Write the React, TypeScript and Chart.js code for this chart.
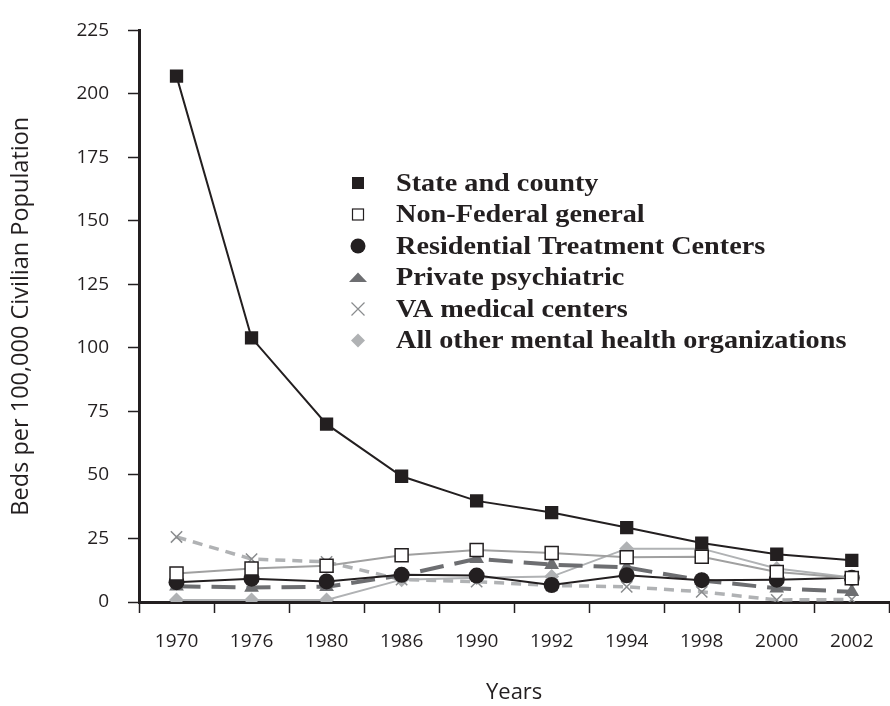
import React, { useEffect, useRef } from 'react';
import { Chart, registerables } from 'chart.js';
Chart.register(...registerables);

const years = ['1970', '1976', '1980', '1986', '1990', '1992', '1994', '1998', '2000', '2002'];
const stateCounty = [207, 104, 70, 49.5, 39.8, 35.2, 29.3, 23.2, 18.8, 16.4];
const nonFederal = [11.2, 13.2, 14.3, 18.4, 20.5, 19.3, 17.6, 17.8, 11.8, 9.4];
const residential = [7.8, 9.2, 8.1, 10.7, 10.4, 6.7, 10.5, 8.6, 8.8, 9.5];
const privatePsych = [6.2, 5.7, 6.0, 10.5, 17.0, 14.7, 13.6, 8.5, 5.4, 4.0];
const vaMedical = [25.6, 16.9, 15.8, 8.8, 8.0, 6.5, 6.0, 4.0, 0.8, 1.0];
const allOther = [0.8, 0.8, 0.8, 8.8, 9.5, 10.0, 21.0, 21.0, 13.2, 9.6];
const seriesLabels = [
  'State and county',
  'Non-Federal general',
  'Residential Treatment Centers',
  'Private psychiatric',
  'VA medical centers',
  'All other mental health organizations',
];
const yMin = 0;
const yMax = 225;
const yStep = 25;

const INK = '#231f20';
const DARK_GRAY = '#6d6e71';
const MID_GRAY = '#a0a0a0';
const LIGHT_GRAY = '#b0b2b4';

const legendPlugin = {
  id: 'customLegend',
  afterDraw(chart: any) {
    const ctx = chart.ctx as CanvasRenderingContext2D;
    const mx = 358;
    const tx = 396;
    const base0 = 190.5;
    const step = 31.5;
    const stretch = 1.13;
    ctx.save();
    seriesLabels.forEach((label, i) => {
      const by = base0 + step * i;
      const cy = by - 7.5;
      ctx.save();
      if (i === 0) {
        ctx.fillStyle = INK;
        ctx.fillRect(mx - 6, cy - 6, 12, 12);
      } else if (i === 1) {
        ctx.fillStyle = '#fff';
        ctx.fillRect(mx - 6, cy - 6, 12, 12);
        ctx.strokeStyle = INK;
        ctx.lineWidth = 1.2;
        ctx.strokeRect(mx - 5.5, cy - 5.5, 11, 11);
      } else if (i === 2) {
        ctx.fillStyle = INK;
        ctx.beginPath();
        ctx.arc(mx, cy, 7.5, 0, Math.PI * 2);
        ctx.fill();
      } else if (i === 3) {
        ctx.fillStyle = DARK_GRAY;
        ctx.beginPath();
        ctx.moveTo(mx - 9, cy + 4.5);
        ctx.lineTo(mx + 9, cy + 4.5);
        ctx.lineTo(mx, cy - 5);
        ctx.closePath();
        ctx.fill();
      } else if (i === 4) {
        ctx.strokeStyle = '#8a8c8e';
        ctx.lineWidth = 1.2;
        ctx.beginPath();
        ctx.moveTo(mx - 6.5, cy - 6.5);
        ctx.lineTo(mx + 6.5, cy + 6.5);
        ctx.moveTo(mx + 6.5, cy - 6.5);
        ctx.lineTo(mx - 6.5, cy + 6.5);
        ctx.stroke();
      } else {
        ctx.fillStyle = LIGHT_GRAY;
        ctx.beginPath();
        ctx.moveTo(mx, cy - 7);
        ctx.lineTo(mx + 7, cy);
        ctx.lineTo(mx, cy + 7);
        ctx.lineTo(mx - 7, cy);
        ctx.closePath();
        ctx.fill();
      }
      ctx.restore();
      ctx.save();
      ctx.translate(tx, by);
      ctx.scale(stretch, 1);
      ctx.fillStyle = INK;
      ctx.font = 'bold 25px "Liberation Serif"';
      ctx.textAlign = 'left';
      ctx.textBaseline = 'alphabetic';
      ctx.fillText(label, 0, 0);
      ctx.restore();
    });
    ctx.restore();
  },
};

export default function App() {
  const ref = useRef<HTMLCanvasElement | null>(null);
  useEffect(() => {
    if (!ref.current) return;
    const chart = new Chart(ref.current, {
      type: 'line',
      data: {
        labels: years,
        datasets: [
          {
            label: seriesLabels[0],
            data: stateCounty,
            borderColor: INK,
            borderWidth: 2,
            pointStyle: 'rect',
            pointRadius: 9.4,
            pointBackgroundColor: INK,
            pointBorderColor: INK,
            pointBorderWidth: 0,
          },
          {
            label: seriesLabels[1],
            data: nonFederal,
            borderColor: MID_GRAY,
            borderWidth: 2,
            pointStyle: 'rect',
            pointRadius: 9.2,
            pointBackgroundColor: '#ffffff',
            pointBorderColor: INK,
            pointBorderWidth: 1.5,
          },
          {
            label: seriesLabels[2],
            data: residential,
            borderColor: INK,
            borderWidth: 2,
            pointStyle: 'circle',
            pointRadius: 8,
            pointBackgroundColor: INK,
            pointBorderColor: INK,
            pointBorderWidth: 0,
          },
          {
            label: seriesLabels[3],
            data: privatePsych,
            borderColor: DARK_GRAY,
            borderWidth: 4,
            borderDash: [24, 11],
            pointStyle: 'triangle',
            pointRadius: 8.5,
            pointBackgroundColor: DARK_GRAY,
            pointBorderColor: DARK_GRAY,
            pointBorderWidth: 0,
          },
          {
            label: seriesLabels[4],
            data: vaMedical,
            borderColor: LIGHT_GRAY,
            borderWidth: 3.5,
            borderDash: [10, 7],
            pointStyle: 'crossRot',
            pointRadius: 8,
            pointBackgroundColor: '#8a8c8e',
            pointBorderColor: '#8a8c8e',
            pointBorderWidth: 1.5,
          },
          {
            label: seriesLabels[5],
            data: allOther,
            borderColor: LIGHT_GRAY,
            borderWidth: 2,
            pointStyle: 'rectRot',
            pointRadius: 7.5,
            pointBackgroundColor: LIGHT_GRAY,
            pointBorderColor: LIGHT_GRAY,
            pointBorderWidth: 0,
          },
        ],
      },
      options: {
        animation: false,
        responsive: false,
        devicePixelRatio: 1,
        layout: { padding: { top: 19, right: 4, left: 0, bottom: 0 } },
        plugins: {
          legend: { display: false },
          tooltip: { enabled: false },
        },
        scales: {
          x: {
            type: 'category',
            offset: true,
            afterFit: (s: any) => {
              s.height = 104;
            },
            grid: {
              display: true,
              offset: true,
              drawOnChartArea: false,
              drawTicks: true,
              tickLength: 11,
              tickWidth: 1.5,
              tickColor: INK,
            },
            border: { display: true, color: INK, width: 3 },
            ticks: {
              color: INK,
              padding: 17,
              font: { family: '"Open Sans"', size: 19 },
              maxRotation: 0,
              autoSkip: false,
            },
            title: {
              display: true,
              text: 'Years',
              color: INK,
              font: { family: '"Open Sans"', size: 22 },
              padding: { top: 0, bottom: 0 },
            },
          },
          y: {
            min: yMin,
            max: yMax,
            afterFit: (s: any) => {
              s.width = 139;
            },
            grid: {
              display: true,
              drawOnChartArea: false,
              drawTicks: true,
              tickLength: 11,
              tickWidth: 1.5,
              tickColor: INK,
            },
            border: { display: true, color: INK, width: 3 },
            ticks: {
              stepSize: yStep,
              color: INK,
              padding: 19,
              font: { family: '"Open Sans"', size: 19 },
            },
            title: {
              display: true,
              text: 'Beds per 100,000 Civilian Population',
              color: INK,
              font: { family: '"Open Sans"', size: 23.5 },
              padding: { top: 7, bottom: 0 },
            },
          },
        },
      },
      plugins: [legendPlugin],
    } as any);
    return () => chart.destroy();
  }, []);
  return (
    <div
      style={{
        position: 'absolute',
        left: 0,
        top: 0,
        width: 890,
        height: 706,
        overflow: 'hidden',
        background: '#fff',
      }}
    >
      <canvas ref={ref} width={900} height={706} style={{ display: 'block' }} />
    </div>
  );
}
